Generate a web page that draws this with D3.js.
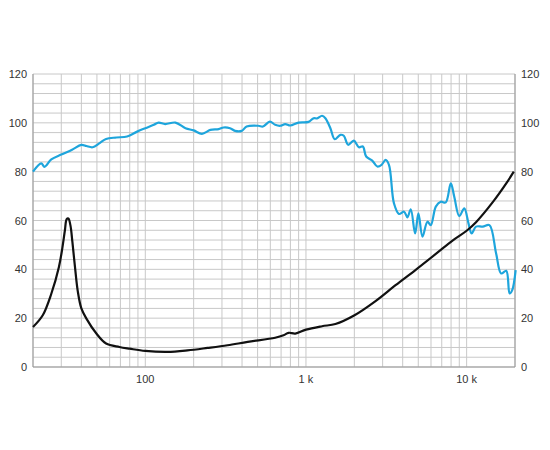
<!DOCTYPE html>
<html><head><meta charset="utf-8">
<script src="https://cdn.jsdelivr.net/npm/d3@7"></script>
<style>body{margin:0;background:#fff}text{font-family:"Liberation Sans",Arial,sans-serif;font-size:11px;fill:#333}</style>
</head><body><svg id="c" width="550" height="450"></svg>
<script>
// SPL (blue) – frequency/value pairs
var splFreq = [20,22.5,23.6,26,30,35,40,43,47,52,57,66,77,89,100,113,121,133,154,178,200,225,254,286,307,337,362,398,427,505,540,596,643,691,743,798,900,1039,1117,1172,1259,1321,1419,1510,1639,1720,1830,1985,2135,2260,2370,2585,2780,2955,3130,3285,3530,3790,4080,4280,4490,4780,5010,5310,5700,5980,6430,6900,7410,7970,8370,9000,9670,10270,10740,11440,12600,13860,15260,16400,17640,18520,19220,20190];
var splVal = [80,83.4,82,85,87,89,91,90.5,90,91.7,93.4,94,94.4,96.4,97.8,99.2,100.1,99.5,100.1,97.8,96.9,95.5,97.1,97.4,98.1,97.8,96.7,96.7,98.5,98.8,98.5,100.5,99.2,98.8,99.5,98.9,100.1,100.4,101.9,101.8,102.9,101.9,97.8,93.3,95.1,94.7,91,92.7,90,90.3,86.2,84.5,82.1,82.8,84.8,82.8,67,62.7,63.6,61.3,64.6,54.7,62.9,53.4,59.5,58.1,65.7,67.7,67.4,75.2,69.8,61.8,65,58.8,54.7,57.5,57.5,58.1,46.5,38.3,39.4,30.1,31.5,39.7];
// Impedance (black)
var impFreq = [20,23,26,29,30.5,31.6,32.4,33.2,34.2,35.2,36.5,38,40,43,49.6,57,69,80,100,137,183,244,325,434,643,725,779,858,1000,1259,1525,2005,2710,3610,4820,6430,8170,10000,11440,14540,17640,19660];
var impVal = [16.4,21.2,30,41,49,56,60.5,60.8,58,51,41,31,24,19.8,13.7,9.6,8.2,7.5,6.6,6.2,6.8,7.8,8.9,10.3,12,13,14,13.7,15.3,16.7,17.6,21.2,27,33.5,39.8,46.3,51.8,55.8,59.3,67.5,75.2,80];
var yTicks = [0,20,40,60,80,100,120];
var xTicks = [100,1000,10000];
var xTickLabels = ["100","1 k","10 k"];

var svg = d3.select("#c");
var L = 33, R = 515, T = 74, B = 367;
var x = d3.scaleLog().domain([20,20000]).range([L,R]);
var y = d3.scaleLinear().domain([0,120]).range([B,T]);

var g = svg.append("g");
// horizontal grid every 4
d3.range(0,121,4).forEach(function(v){
	g.append("line").attr("x1",L).attr("x2",R).attr("y1",y(v)).attr("y2",y(v))
		.attr("stroke","#c8c8c8").attr("stroke-width",1);
});
// vertical grid
var vg = [];
[10,100,1000,10000].forEach(function(d){ for(var k=1;k<10;k++){ var f=d*k; if(f>=20 && f<=20000) vg.push(f);} });
vg.forEach(function(f){
	g.append("line").attr("x1",x(f)).attr("x2",x(f)).attr("y1",T).attr("y2",B)
		.attr("stroke","#c8c8c8").attr("stroke-width",1);
});
// frame
g.append("line").attr("x1",L).attr("x2",L).attr("y1",T).attr("y2",B).attr("stroke","#999");
g.append("line").attr("x1",R).attr("x2",R).attr("y1",T).attr("y2",B).attr("stroke","#999");
g.append("line").attr("x1",L).attr("x2",R).attr("y1",B).attr("y2",B).attr("stroke","#999");

yTicks.forEach(function(v){
	svg.append("text").attr("x",L-6).attr("y",y(v)+4).attr("text-anchor","end").text(v);
	svg.append("text").attr("x",R+6).attr("y",y(v)+4).text(v);
});
xTicks.forEach(function(f,i){
	svg.append("text").attr("x",x(f)).attr("y",B+16).attr("text-anchor","middle").text(xTickLabels[i]);
});

var line = d3.line().curve(d3.curveCatmullRom.alpha(0.5))
	.x(function(d){ return x(d[0]); }).y(function(d){ return y(d[1]); });
svg.append("path").datum(d3.zip(splFreq,splVal)).attr("d",line)
	.attr("fill","none").attr("stroke","#1ea5dc").attr("stroke-width",2.2);
svg.append("path").datum(d3.zip(impFreq,impVal)).attr("d",line)
	.attr("fill","none").attr("stroke","#111").attr("stroke-width",2.2);
</script></body></html>
